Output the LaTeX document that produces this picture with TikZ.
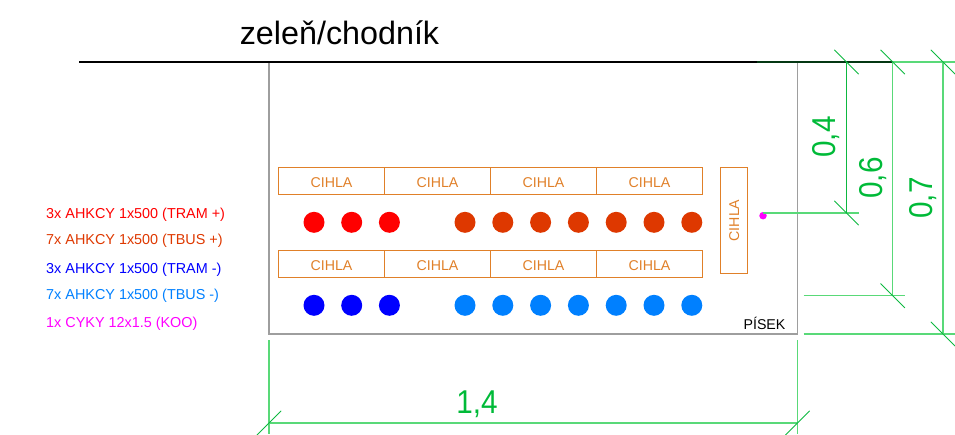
\documentclass[tikz,border=0pt]{standalone}
\usepackage{fontspec}
\setmainfont{Liberation Sans}
\usepackage{xcolor}
\definecolor{brick}{rgb}{0.88, 0.50, 0.16}
\definecolor{wall}{rgb}{0.62, 0.62, 0.62}
\definecolor{dimline}{rgb}{0.35, 0.85, 0.47}
\definecolor{dimtick}{rgb}{0.05, 0.72, 0.25}
\definecolor{dimtext}{rgb}{0, 0.73, 0.22}
\definecolor{tramplus}{rgb}{1, 0, 0}
\definecolor{tbusplus}{rgb}{0.87, 0.22, 0}
\definecolor{trammin}{rgb}{0, 0, 1}
\definecolor{tbusmin}{rgb}{0, 0.5, 1}
\definecolor{koo}{rgb}{1, 0, 1}
\newcommand{\dimnum}[1]{\scalebox{0.9}[1]{#1}}

\begin{document}
\begin{tikzpicture}[x=1pt,y=-1pt]
	\tikzstyle{cihla} = [draw=brick,text=brick,line width=1pt,inner sep=0pt,font=\fontsize{14.2}{16}\selectfont,minimum width=106pt,minimum height=26.6pt]
	\tikzstyle{cable} = [circle,inner sep=0pt,minimum size=21pt]
	\tikzstyle{cablelabel} = [anchor=west,inner sep=0pt,font=\fontsize{14.4}{16}\selectfont]
	\tikzstyle{dimension} = [dimline,line width=1.3pt]
	\tikzstyle{dimslash} = [dimtick,line width=0.8pt]
	\tikzstyle{dimlabel} = [dimtext,inner sep=0pt,font=\fontsize{33}{36}\selectfont]

	\useasboundingbox (0,0) rectangle (955,434);

	% Draw the walls of the trench.
	\coordinate (tl) at (269,62);
	\coordinate (tr) at (797.5,62);
	\coordinate (bl) at (269,334);
	\coordinate (br) at (797.5,334);
	\draw[wall,line width=1.3pt] (tl) -- (bl) -- (br) -- (tr);

	% Draw the surface line.
	\coordinate (surfl) at (79,62);
	\coordinate (surfm) at (757,62);
	\coordinate (surfg) at (893,62);
	\coordinate (surfe) at (955,62);
	\draw[dimension] (surfm) -- (surfe);
	\draw[black,line width=1.6pt] (surfl) -- (surfm);
	\draw[black!70!dimtick,line width=1.3pt] (surfm) -- (surfg);
	\node[inner sep=0pt,font=\fontsize{32.3}{36}\selectfont] (surface) at (339.5,32.5) {zeleň/chodník};

	% Draw the bricks.
	\foreach \n in {0,1,2,3}
	{
		\node[cihla,text height=12pt,text depth=0pt] (up\n) at (331.5+106*\n,181) {CIHLA};
		\node[cihla,text height=12pt,text depth=0pt] (lo\n) at (331.5+106*\n,264) {CIHLA};
	}
	\node[cihla,minimum width=27pt,minimum height=106pt] (side) at (734.2,220.5) {\rotatebox{90}{\raisebox{-2pt}{CIHLA}}};

	% Draw the cables.
	\foreach \n in {0,1,2}
	{
		\node[cable,fill=tramplus] (rp\n) at (314+37.7*\n,222.3) {};
		\node[cable,fill=trammin] (rm\n) at (314+37.7*\n,305.3) {};
	}
	\foreach \n in {0,1,...,6}
	{
		\node[cable,fill=tbusplus] (bp\n) at (465+37.8*\n,222.3) {};
		\node[cable,fill=tbusmin] (bm\n) at (465+37.8*\n,305.3) {};
	}
	\node[circle,fill=koo,inner sep=0pt,minimum size=7.5pt] (control) at (763,215.7) {};

	\node[inner sep=0pt,font=\fontsize{14.2}{16}\selectfont] (sand) at (764.5,323.5) {PÍSEK};

	% Draw the legend.
	\node[cablelabel,text=tramplus] (l1) at (46,214.7) {3x AHKCY 1x500 (TRAM +)};
	\node[cablelabel,text=tbusplus] (l2) at (46,240.7) {7x AHKCY 1x500 (TBUS +)};
	\node[cablelabel,text=trammin] (l3) at (46,269.7) {3x AHKCY 1x500 (TRAM -)};
	\node[cablelabel,text=tbusmin] (l4) at (46,295.7) {7x AHKCY 1x500 (TBUS -)};
	\node[cablelabel,text=koo] (l5) at (46,323.7) {1x CYKY 12x1.5 (KOO)};

	% Draw the dimensions on the right.
	\coordinate (d4t) at (846.5,62);
	\coordinate (d4b) at (846.5,213);
	\coordinate (d4e) at (858.5,213);
	\coordinate (d6t) at (892.7,62);
	\coordinate (d6b) at (892.7,295.7);
	\coordinate (d6s) at (803.7,295.7);
	\coordinate (d6e) at (905,295.7);
	\coordinate (d7t) at (943,62);
	\coordinate (d7b) at (943,334);
	\coordinate (d7s) at (803.7,334);
	\coordinate (d7e) at (955,334);
	\draw[dimension] (control |- d4b) -- (d4e);
	\draw[dimension] (d6s) -- (d6e);
	\draw[dimension] (d7s) -- (d7e);
	\draw[dimension] (d6t) -- (d6b);
	\draw[dimension] (d7t) -- (d7b);
	\draw[dimslash,line width=1pt] (d4t) -- (d4b);
	\foreach \p in {d4t,d4b,d6t,d6b,d7t,d7b}
	{
		\draw[dimslash] ([shift={(-12.2,-12.2)}]\p) -- ([shift={(12.2,12.2)}]\p);
	}
	\node[dimlabel,rotate=90] (v04) at (826,137) {\dimnum{0,4}};
	\node[dimlabel,rotate=90] (v06) at (873,178) {\dimnum{0,6}};
	\node[dimlabel,rotate=90] (v07) at (923,198) {\dimnum{0,7}};

	% Draw the dimension at the bottom.
	\coordinate (wlt) at (269,340);
	\coordinate (wlb) at (269,434);
	\coordinate (wrt) at (797.5,340);
	\coordinate (wrb) at (797.5,434);
	\coordinate (wl) at (269,423);
	\coordinate (wr) at (797.5,423);
	\draw[dimension] (wlt) -- (wlb);
	\draw[dimension] (wrt) -- (wrb);
	\draw[dimension] (wl) -- (wr);
	\foreach \p in {wl,wr}
	{
		\draw[dimslash] ([shift={(-12.2,12.2)}]\p) -- ([shift={(12.2,-12.2)}]\p);
	}
	\node[dimlabel] (v14) at (477,404.5) {\dimnum{1,4}};
\end{tikzpicture}
\end{document}
